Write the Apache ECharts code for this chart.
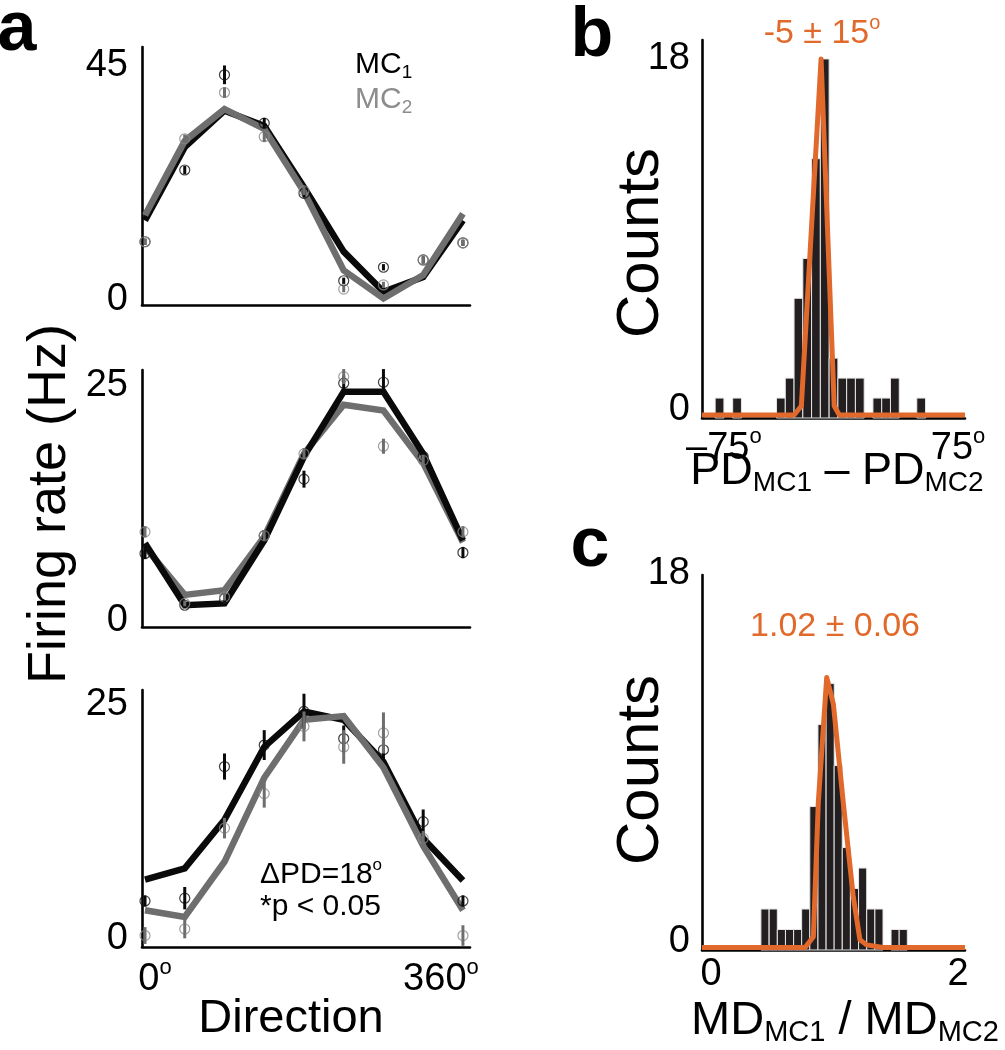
<!DOCTYPE html>
<html><head><meta charset="utf-8">
<script src="https://cdn.jsdelivr.net/npm/echarts@6/dist/echarts.min.js"></script>
<style>html,body{margin:0;padding:0;background:#fff}#c{width:1005px;height:1050px}</style>
</head><body><div id="c"></div>
<script>
// ---------- data ----------
const directions = [0, 45, 90, 135, 180, 225, 270, 315, 360];

const fitTopMC1 = [15.3, 29.4, 36.4, 33.5, 21.7, 9.3, 1.6, 4.4, 15.3];
const fitTopMC2 = [16.3, 30.6, 36.7, 32.9, 20.8, 5.7, 0.3, 4.8, 16.6];
const obsTopMC1 = [11.2, 25.0, 43.3, 34.0, 20.5, 3.7, 6.3, 7.7, 11.0];
const obsTopMC2 = [11.2, 31.0, 39.9, 31.4, 21.0, 2.1, 2.9, 7.7, 11.0];
const errTopMC1 = [0.6, 0.8, 1.8, 1.0, 0.8, 0.6, 0.6, 0.7, 0.6];
const errTopMC2 = [0.6, 0.8, 1.0, 1.0, 0.8, 0.6, 0.6, 0.7, 0.6];

const fitMidMC1 = [8.2, 1.6, 1.8, 8.5, 17.4, 24.3, 24.3, 17.7, 8.5];
const fitMidMC2 = [7.8, 2.7, 3.2, 8.9, 17.7, 22.9, 22.3, 16.7, 8.3];
const obsMidMC1 = [7.1, 1.6, 2.3, 9.0, 15.0, 25.2, 25.3, 17.4, 7.2];
const obsMidMC2 = [9.4, 1.8, 2.5, 9.0, 17.7, 25.9, 18.5, 17.0, 9.4];
const errMidMC1 = [0.6, 0.3, 0.4, 0.6, 0.9, 0.8, 1.4, 0.6, 0.6];
const errMidMC2 = [0.6, 0.3, 0.4, 0.6, 0.6, 0.8, 0.8, 0.6, 0.6];

const fitBotMC1 = [6.3, 7.5, 12.7, 20.5, 24.3, 23.4, 18.9, 10.7, 6.2];
const fitBotMC2 = [3.0, 2.3, 8.2, 17.2, 23.4, 23.8, 18.3, 9.9, 3.0];
const obsBotMC1 = [4.0, 4.3, 18.4, 20.7, 24.3, 21.4, 20.2, 12.5, 4.0];
const obsBotMC2 = [0.3, 1.0, 11.8, 15.5, 22.7, 20.5, 22.0, 10.7, 0.3];
const errBotMC1 = [0.6, 1.2, 1.4, 1.6, 1.9, 1.4, 1.1, 1.3, 0.6];
const errBotMC2 = [0.9, 1.0, 1.1, 1.5, 1.6, 1.8, 2.2, 0.8, 1.1];

const pdBinCenters = [-78, -66, -36, -30, -24, -18, -12, -6, 0, 6, 12, 18, 30, 36, 42, 60];
const pdCounts     = [1, 1, 1, 2, 6, 8, 13, 18, 3, 2, 2, 2, 1, 1, 2, 1];
const pdFitX = [-90, -27, -22, -8.5, 0.5, 4, 90];
const pdFitY = [0.15, 0.15, 0.6, 18, 0.6, 0.15, 0.15];

const mdBinCenters = [0.437, 0.504, 0.570, 0.636, 0.702, 0.767, 0.833, 0.899, 0.965, 1.030, 1.096, 1.162, 1.228, 1.294, 1.360, 1.491, 1.557];
const mdCounts     = [2, 2, 1, 1, 1, 2, 7, 11, 13, 9, 5, 3, 4, 2, 2, 1, 1];
const mdFitX = [-0.073, 0.762, 0.829, 0.869, 0.937, 0.991, 1.071, 1.152, 1.206, 1.26, 1.395, 2.057];
const mdFitY = [0.12, 0.12, 0.65, 7.2, 13.3, 12.0, 7.2, 2.6, 0.5, 0.25, 0.12, 0.12];

const aYTicks = [[0, 45], [0, 25], [0, 25]];
const aXTicks = [0, 360];
const bXTicks = [-75, 75];
const bYTicks = [0, 18];
const cXTicks = [0, 2];
const cYTicks = [0, 18];

// ---------- style ----------
const FONT = '"Liberation Sans", Arial, Helvetica, sans-serif';
const BLACK = '#0a0a0a', GRAY = '#6e6e6e', GRAY_PT = '#8a8a8a', ORANGE = '#e0692b', BAR = '#231f20';
const PD_BIN = 6, MD_BIN = 0.0658;

const chart = echarts.init(document.getElementById('c'));

const axisLine = {show: true, onZero: false, lineStyle: {color: '#000', width: 2.6}};
const baseLabel = {color: '#000', fontFamily: FONT, fontSize: 38};

function yAx(gi, min, max, ticks, extra) {
  return {type: 'value', gridIndex: gi, min, max, axisLine, axisTick: {show: false}, splitLine: {show: false},
    axisLabel: Object.assign({}, baseLabel, {customValues: ticks, margin: 14}, extra || {})};
}
function xAx(gi, min, max, labelOpt) {
  return {type: 'value', gridIndex: gi, min, max, axisLine, axisTick: {show: false}, splitLine: {show: false},
    axisLabel: labelOpt ? Object.assign({}, baseLabel, labelOpt) : {show: false}};
}

const grids = [
  {left: 142, top: 47, width: 328, height: 258},
  {left: 142, top: 370, width: 328, height: 257},
  {left: 142, top: 690, width: 328, height: 257},
  {left: 702, top: 40, width: 263, height: 378},
  {left: 702, top: 575, width: 263, height: 375}
];

const xAxes = [
  xAx(0, -3.4, 368),
  xAx(1, -3.4, 368),
  xAx(2, -3.4, 368, {customValues: aXTicks, margin: 10,
    formatter: v => v === 0 ? '{l|0}{s|o}' : '{n|' + v + '}{r|o}',
    rich: {
      l: {fontSize: 38, fontFamily: FONT, color: '#000', padding: [0, 0, 0, 20]},
      n: {fontSize: 38, fontFamily: FONT, color: '#000'},
      s: {fontSize: 22, fontFamily: FONT, color: '#000', padding: [0, 0, 24, 0]},
      r: {fontSize: 22, fontFamily: FONT, color: '#000', padding: [0, 44, 24, 0]}
    }}),
  xAx(3, -90, 90, {customValues: bXTicks, margin: 8,
    formatter: v => v < 0 ? '{n|\u2013' + Math.abs(v) + '}{s|o}' : '{p|' + v + '}{s|o}',
    rich: {
      n: {fontSize: 38, fontFamily: FONT, color: '#000'},
      p: {fontSize: 38, fontFamily: FONT, color: '#000', padding: [0, 0, 0, 30]},
      s: {fontSize: 22, fontFamily: FONT, color: '#000', padding: [0, 0, 24, 0]}
    }}),
  xAx(4, -0.073, 2.057, {customValues: cXTicks, margin: 6})
];

const yAxes = [
  yAx(0, -0.96, 48.65, aYTicks[0]),
  yAx(1, -0.71, 26.6, aYTicks[1]),
  yAx(2, -0.93, 26.6, aYTicks[2]),
  yAx(3, 0, 18.95, bYTicks, {margin: 12,
    formatter: v => v === 0 ? '{z|0}' : '{n|' + v + '}',
    rich: {n: {fontSize: 38, fontFamily: FONT, color: '#000'},
           z: {fontSize: 38, fontFamily: FONT, color: '#000', padding: [0, 0, 16, 0]}}}),
  yAx(4, 0, 18.3, cYTicks, {margin: 12,
    formatter: v => '{n|' + v + '}',
    rich: {n: {fontSize: 38, fontFamily: FONT, color: '#000', padding: [0, 0, 16, 0]}}})
];

function pairs(xs, ys) { return xs.map((x, i) => [x, ys[i]]); }

function fitLine(gi, ys, color, z) {
  return {type: 'line', xAxisIndex: gi, yAxisIndex: gi, data: pairs(directions, ys), symbol: 'none',
    lineStyle: {color, width: 6.5, join: 'miter'}, z, silent: true, animation: false};
}
function points(gi, ys, color) {
  return {type: 'scatter', xAxisIndex: gi, yAxisIndex: gi, data: pairs(directions, ys), symbol: 'circle',
    symbolSize: 10, itemStyle: {color: 'rgba(0,0,0,0)', borderColor: color, borderWidth: 1.2}, z: 6, silent: true, animation: false};
}
function errBars(gi, ys, errs, color) {
  return {type: 'custom', xAxisIndex: gi, yAxisIndex: gi, data: directions.map((d, i) => [d, ys[i], errs[i]]),
    renderItem: (params, api) => {
      const x = api.value(0), y = api.value(1), e = api.value(2);
      const p1 = api.coord([x, y - e]), p2 = api.coord([x, y + e]);
      return {type: 'line', shape: {x1: p1[0], y1: p1[1], x2: p2[0], y2: p2[1]}, style: {stroke: color, lineWidth: 3}};
    }, z: 7, silent: true, animation: false, clip: false};
}
function hist(gi, centers, counts, bw) {
  return {type: 'custom', xAxisIndex: gi, yAxisIndex: gi, data: pairs(centers, counts),
    renderItem: (params, api) => {
      const c = api.value(0), n = api.value(1);
      const p0 = api.coord([c - bw / 2, n]), p1 = api.coord([c + bw / 2, 0]);
      return {type: 'rect', shape: {x: p0[0], y: p0[1], width: p1[0] - p0[0], height: p1[1] - p0[1]},
        style: {fill: BAR, stroke: '#e6e6e6', lineWidth: 1}};
    }, z: 3, silent: true, animation: false};
}
function fitCurve(gi, xs, ys) {
  return {type: 'line', xAxisIndex: gi, yAxisIndex: gi, data: pairs(xs, ys), symbol: 'none',
    lineStyle: {color: ORANGE, width: 5, join: 'round'}, z: 5, silent: true, animation: false};
}

const series = [
  fitLine(0, fitTopMC1, BLACK, 2), fitLine(0, fitTopMC2, GRAY, 3),
  errBars(0, obsTopMC1, errTopMC1, BLACK), errBars(0, obsTopMC2, errTopMC2, GRAY),
  points(0, obsTopMC1, '#111'), points(0, obsTopMC2, GRAY_PT),
  fitLine(1, fitMidMC2, GRAY, 2), fitLine(1, fitMidMC1, BLACK, 3),
  errBars(1, obsMidMC1, errMidMC1, BLACK), errBars(1, obsMidMC2, errMidMC2, GRAY),
  points(1, obsMidMC1, '#111'), points(1, obsMidMC2, GRAY_PT),
  fitLine(2, fitBotMC1, BLACK, 2), fitLine(2, fitBotMC2, GRAY, 3),
  errBars(2, obsBotMC1, errBotMC1, BLACK), errBars(2, obsBotMC2, errBotMC2, GRAY),
  points(2, obsBotMC1, '#111'), points(2, obsBotMC2, GRAY_PT),
  hist(3, pdBinCenters, pdCounts, PD_BIN), fitCurve(3, pdFitX, pdFitY),
  hist(4, mdBinCenters, mdCounts, MD_BIN), fitCurve(4, mdFitX, mdFitY)
];

function T(x, y, text, size, opts) {
  opts = opts || {};
  return {type: 'text', x, y, rotation: opts.rotation || 0, silent: true, z: 20,
    style: {text, fontSize: size, fontFamily: FONT, fontWeight: opts.weight || 'normal', fill: opts.color || '#000',
      align: opts.align || 'center', verticalAlign: 'middle', rich: opts.rich}};
}
function richSet(size, color) {
  return {
    m: {fontSize: size, fontFamily: FONT, fill: color, color},
    sub: {fontSize: Math.round(size * 0.62), fontFamily: FONT, fill: color, color, padding: [Math.round(size * 0.5), 0, 0, 0]},
    sup: {fontSize: Math.round(size * 0.58), fontFamily: FONT, fill: color, color, padding: [0, 0, Math.round(size * 0.62), 0]}
  };
}

const graphics = [
  T(17, 31, 'a', 70, {weight: 'bold'}),
  T(592, 37, 'b', 70, {weight: 'bold'}),
  T(590, 547, 'c', 70, {weight: 'bold'}),
  T(50, 504, 'Firing rate (Hz)', 54, {rotation: Math.PI / 2}),
  T(291, 1019, 'Direction', 47),
  T(355, 65, '{m|MC}{sub|1}', 30, {align: 'left', rich: richSet(30, '#000')}),
  T(355, 100, '{m|MC}{sub|2}', 30, {align: 'left', rich: richSet(30, '#8c8c8c')}),
  T(260, 875, '{m|\u0394PD=18}{sup|o}', 30, {align: 'left', rich: richSet(30, '#000')}),
  T(260, 907, '*p < 0.05', 30, {align: 'left'}),
  T(822, 34, '{m|-5 \u00b1 15}{sup|o}', 34, {rich: richSet(34, ORANGE)}),
  T(641, 243, 'Counts', 60, {rotation: Math.PI / 2}),
  T(641, 770, 'Counts', 60, {rotation: Math.PI / 2}),
  T(837, 472, '{m|PD}{sub|MC1}{m| \u2013 PD}{sub|MC2}', 45, {rich: richSet(45, '#000')}),
  T(835, 627, '1.02 \u00b1 0.06', 34, {color: ORANGE}),
  T(845, 1021, '{m|MD}{sub|MC1}{m| / MD}{sub|MC2}', 47, {rich: richSet(47, '#000')})
];

chart.setOption({
  animation: false,
  backgroundColor: '#fff',
  grid: grids,
  xAxis: xAxes,
  yAxis: yAxes,
  series,
  graphic: graphics
});
</script>
</body></html>
